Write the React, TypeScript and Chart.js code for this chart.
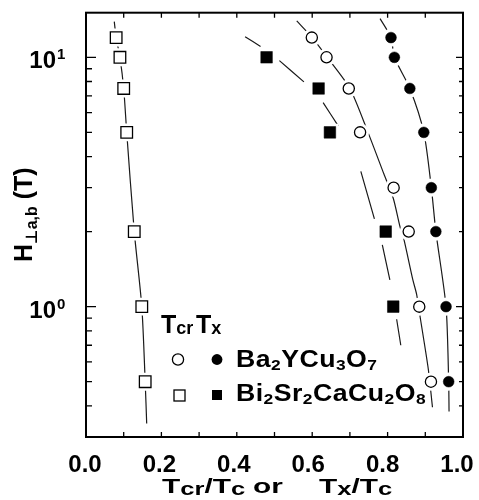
import React, { useEffect, useRef } from 'react';
import { Chart, registerables } from 'chart.js';

Chart.register(...registerables);

// ---------- data ----------
// Ba2YCu3O7
const fieldYBCO = [12, 10, 7.5, 5, 3, 2, 1, 0.5];
const tcrYBCO = [0.599, 0.638, 0.697, 0.727, 0.816, 0.856, 0.884, 0.915];
const txYBCO = [0.809, 0.818, 0.859, 0.896, 0.916, 0.928, 0.955, 0.962];
// Bi2Sr2CaCu2O8
const fieldBiTcr = [12, 10, 7.5, 5, 2, 1, 0.5];
const tcrBi = [0.080, 0.090, 0.100, 0.108, 0.128, 0.148, 0.157];
const fieldBiTx = [10, 7.5, 5, 2, 1];
const txBi = [0.479, 0.617, 0.647, 0.795, 0.815];

// guide curves (dashed fits)
const fitTcrBiX = [0.075, 0.080, 0.090, 0.100, 0.108, 0.128, 0.148, 0.157, 0.161];
const fitTcrBiH = [13.9, 12, 10, 7.5, 5, 2, 1, 0.5, 0.34];
const fitTxBiX = [0.422, 0.463, 0.49, 0.513, 0.578, 0.6, 0.629, 0.669, 0.7, 0.729, 0.765, 0.775, 0.786, 0.806, 0.815, 0.824, 0.835];
const fitTxBiH = [12.1, 11.06, null, 9.7, 7.97, null, 6.58, 5.31, null, 3.49, 2.25, null, 1.77, 1.28, null, 0.89, 0.70];
const fitTcrYX = [0.559, 0.600, 0.640, 0.700, 0.748, 0.790, 0.815, 0.833, 0.843, 0.867, 0.877, 0.886, 0.908, 0.919];
const fitTcrYH = [14, 12, 10, 7.5, 5, 3.41, 2.72, 2.09, 1.87, 1.28, 1.12, 0.915, 0.561, 0.395];
const fitTxYX = [0.780, 0.809, 0.818, 0.859, 0.896, 0.916, 0.928, 0.955, 0.962, 0.963];
const fitTxYH = [14.3, 12, 10, 7.5, 5, 3, 2, 1, 0.5, 0.38];

// axes
const xMin = 0;
const xMax = 1.0;
const yMin = 0.303;
const yMax = 15.1;
const xTickValues = [0, 0.2, 0.4, 0.6, 0.8, 1.0];
const xTickLabels = ['0.0', '0.2', '0.4', '0.6', '0.8', '1.0'];
const xMinorTicks = [0.1, 0.2, 0.3, 0.4, 0.5, 0.6, 0.7, 0.8, 0.9];
const yMajorTicks = [1, 10];
const yMajorExponents = ['0', '1'];
const yMinorTicks = [0.4, 0.5, 0.6, 0.7, 0.8, 0.9, 2, 3, 4, 5, 6, 7, 8, 9];

// texts: [text, kind] kind 0 normal, 1 subscript
type Seg = [string, number];
const yTitle: Seg[] = [['H', 0], ['\u22A5a,b', 1], [' (T)', 0]];
const xTitleA: Seg[] = [['T', 0], ['cr', 1], ['/T', 0], ['c', 1]];
const xTitleOr: Seg[] = [['or', 0]];
const xTitleB: Seg[] = [['T', 0], ['x', 1], ['/T', 0], ['c', 1]];
const legendHeadA: Seg[] = [['T', 0], ['cr', 1]];
const legendHeadB: Seg[] = [['T', 0], ['x', 1]];
const legendYBCO: Seg[] = [['Ba', 0], ['2', 1], ['YCu', 0], ['3', 1], ['O', 0], ['7', 1]];
const legendBi: Seg[] = [['Bi', 0], ['2', 1], ['Sr', 0], ['2', 1], ['CaCu', 0], ['2', 1], ['O', 0], ['8', 1]];

const FONT = '"Liberation Sans", Arial, "DejaVu Sans", sans-serif';
const INK = '#000';

const pts = (xs: number[], ys: (number | null)[]) => xs.map((x, i) => ({ x, y: ys[i] as any }));

type RichOpts = { size: number; sub: number; shift: number; sx: number; spacing: number };

function drawRich(ctx: CanvasRenderingContext2D, segs: Seg[], x: number, y: number, o: RichOpts) {
  ctx.save();
  ctx.translate(x, y);
  ctx.scale(o.sx, 1);
  ctx.textAlign = 'left';
  ctx.textBaseline = 'alphabetic';
  ctx.fillStyle = INK;
  let cx = 0;
  for (const [t, kind] of segs) {
    const s = kind === 0 ? o.size : o.sub;
    ctx.font = `bold ${s}px ${FONT}`;
    const dy = kind === 1 ? o.shift : 0;
    for (const ch of t) {
      ctx.fillText(ch, cx, dy);
      cx += ctx.measureText(ch).width + o.spacing;
    }
  }
  ctx.restore();
}

const decorPlugin = {
  id: 'decor',
  afterDatasetsDraw(chart: any) {
    const ctx: CanvasRenderingContext2D = chart.ctx;
    const xs = chart.scales.x;
    const ys = chart.scales.y;
    const a = chart.chartArea;
    ctx.save();
    ctx.strokeStyle = INK;
    ctx.fillStyle = INK;

    // frame
    ctx.lineWidth = 2;
    ctx.strokeRect(a.left, a.top, a.right - a.left, a.bottom - a.top);

    // x ticks (inward, top and bottom)
    ctx.lineWidth = 1.3;
    ctx.beginPath();
    for (const v of xMinorTicks) {
      const px = xs.getPixelForValue(v);
      ctx.moveTo(px, a.bottom);
      ctx.lineTo(px, a.bottom - 5);
      ctx.moveTo(px, a.top);
      ctx.lineTo(px, a.top + 5);
    }
    // y ticks
    for (const v of yMinorTicks) {
      const py = ys.getPixelForValue(v);
      ctx.moveTo(a.left, py);
      ctx.lineTo(a.left + 6, py);
      ctx.moveTo(a.right, py);
      ctx.lineTo(a.right - 4, py);
    }
    for (const v of yMajorTicks) {
      const py = ys.getPixelForValue(v);
      ctx.moveTo(a.left, py);
      ctx.lineTo(a.left + 10, py);
      ctx.moveTo(a.right, py);
      ctx.lineTo(a.right - 7, py);
    }
    ctx.stroke();

    // x tick labels
    ctx.font = `bold 24px ${FONT}`;
    ctx.textAlign = 'center';
    ctx.textBaseline = 'alphabetic';
    xTickValues.forEach((v, i) => {
      const px = xs.getPixelForValue(v);
      ctx.fillText(xTickLabels[i], px - 1 - 5 * v, a.bottom + 35);
    });

    // y tick labels 10^n
    yMajorTicks.forEach((v, i) => {
      const py = ys.getPixelForValue(v);
      ctx.font = `bold 24px ${FONT}`;
      ctx.textAlign = 'right';
      ctx.fillText('10', a.left - 30, py + 11);
      ctx.font = `bold 15px ${FONT}`;
      ctx.textAlign = 'left';
      ctx.fillText(yMajorExponents[i], a.left - 29, py + 2);
    });

    // y title (rotated)
    ctx.save();
    ctx.translate(32, 262);
    ctx.rotate(-Math.PI / 2);
    drawRich(ctx, yTitle, 0, 0, { size: 25, sub: 16, shift: 5, sx: 1, spacing: 0 });
    ctx.restore();

    // x title
    const xt = { size: 21, sub: 18, shift: 2, sx: 1.42, spacing: 0 };
    drawRich(ctx, xTitleA, 162, 493, xt);
    drawRich(ctx, xTitleOr, 253, 493, xt);
    drawRich(ctx, xTitleB, 319, 493, xt);

    // legend header
    const lh = { size: 25, sub: 18, shift: 1, sx: 1, spacing: 0 };
    drawRich(ctx, legendHeadA, 161, 333, lh);
    drawRich(ctx, legendHeadB, 196, 333, lh);

    // legend rows
    const lr = { size: 23, sub: 15, shift: 3, sx: 1.16, spacing: 0.4 };
    drawRich(ctx, legendYBCO, 236, 367, lr);
    drawRich(ctx, legendBi, 236, 401, lr);

    // legend markers
    ctx.lineWidth = 1.3;
    ctx.fillStyle = '#fff';
    ctx.beginPath();
    ctx.arc(178, 359.5, 5.6, 0, Math.PI * 2);
    ctx.fill();
    ctx.stroke();
    ctx.fillStyle = INK;
    ctx.beginPath();
    ctx.arc(217, 359.5, 5.4, 0, Math.PI * 2);
    ctx.fill();
    ctx.fillStyle = '#fff';
    ctx.fillRect(174, 390, 11, 11);
    ctx.strokeRect(174, 390, 11, 11);
    ctx.fillStyle = INK;
    ctx.fillRect(212, 390, 10, 10);

    ctx.restore();
  },
};

export default function App() {
  const ref = useRef<HTMLCanvasElement | null>(null);

  useEffect(() => {
    if (!ref.current) return;
    const circle = 5.6;
    const square = 8.2;
    const fit = (data: any[]) => ({
      data,
      showLine: true,
      pointRadius: 0,
      borderColor: '#1a1a1a',
      borderWidth: 1.2,
      tension: 0.25,
      spanGaps: false,
      order: 3,
    });
    const halo = (data: any[], style: string, r: number) => ({
      data,
      pointStyle: style,
      pointRadius: r,
      pointBackgroundColor: '#fff',
      pointBorderColor: '#fff',
      pointBorderWidth: 0,
      showLine: false,
      order: 2,
    });
    const mark = (data: any[], style: string, r: number, filled: boolean) => ({
      data,
      pointStyle: style,
      pointRadius: r,
      pointBackgroundColor: filled ? INK : '#fff',
      pointBorderColor: INK,
      pointBorderWidth: filled ? 0.5 : 1.3,
      showLine: false,
      order: 1,
    });

    const dTcrY = pts(tcrYBCO, fieldYBCO);
    const dTxY = pts(txYBCO, fieldYBCO);
    const dTcrBi = pts(tcrBi, fieldBiTcr);
    const dTxBi = pts(txBi, fieldBiTx);

    const chart = new Chart(ref.current, {
      type: 'scatter',
      data: {
        datasets: [
          mark(dTcrY, 'circle', circle, false),
          mark(dTxY, 'circle', circle - 0.2, true),
          mark(dTcrBi, 'rect', square, false),
          mark(dTxBi, 'rect', square, true),
          halo(dTcrY, 'circle', circle + 3.5),
          halo(dTxY, 'circle', circle + 3.5),
          halo(dTcrBi, 'rect', square + 4.5),
          halo(dTxBi, 'rect', square + 4),
          fit(pts(fitTcrBiX, fitTcrBiH)),
          fit(pts(fitTxBiX, fitTxBiH)),
          fit(pts(fitTcrYX, fitTcrYH)),
          fit(pts(fitTxYX, fitTxYH)),
        ] as any,
      },
      options: {
        responsive: false,
        animation: false,
        devicePixelRatio: 1,
        layout: { padding: { left: 86, top: 11, right: 16, bottom: 63 } },
        plugins: { legend: { display: false }, tooltip: { enabled: false } },
        events: [],
        scales: {
          x: { type: 'linear', min: xMin, max: xMax, display: false },
          y: { type: 'logarithmic', min: yMin, max: yMax, display: false },
        },
      },
      plugins: [decorPlugin],
    });
    return () => chart.destroy();
  }, []);

  return (
    <div style={{ position: 'absolute', left: 0, top: 0, width: 479, height: 500, background: '#fff' }}>
      <canvas ref={ref} width={479} height={500} />
    </div>
  );
}
